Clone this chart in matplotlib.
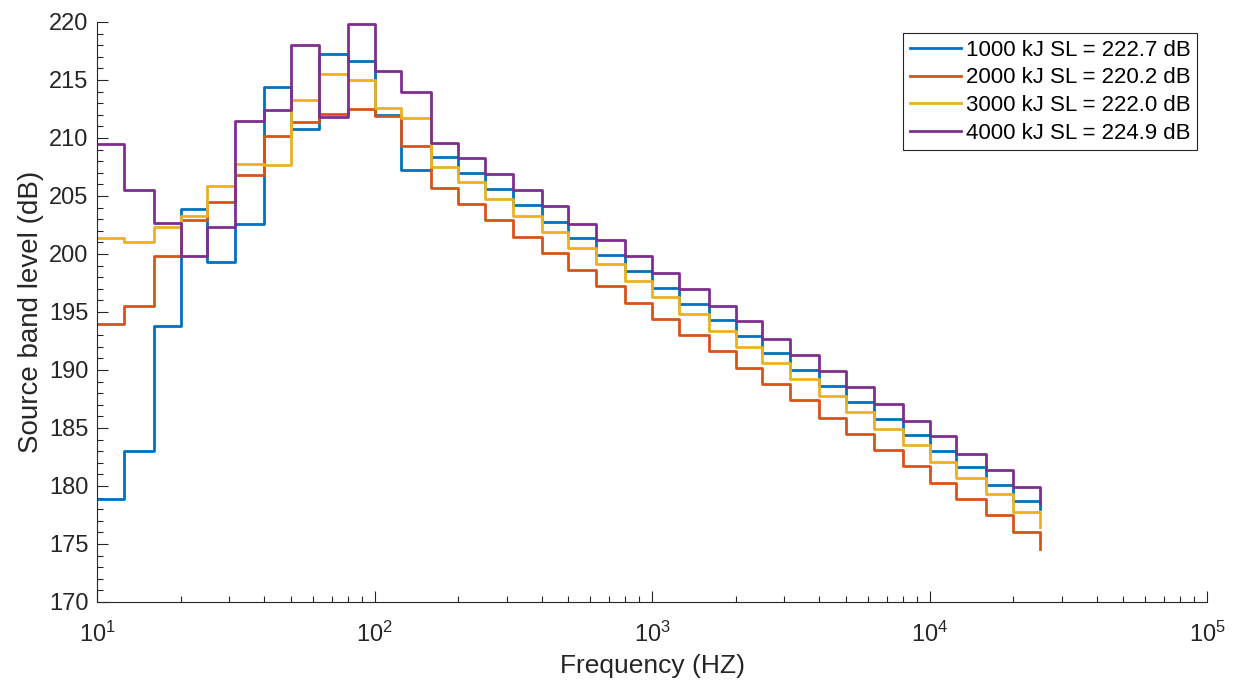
import matplotlib
matplotlib.use("Agg")
import matplotlib.pyplot as plt
from matplotlib.ticker import LogLocator, MultipleLocator

plt.rcParams['font.family'] = ['Liberation Sans', 'DejaVu Sans']

freqs = [10, 12.5, 16, 20, 25, 31.5, 40, 50, 63, 80, 100, 125, 160, 200, 250, 315,
         400, 500, 630, 800, 1000, 1250, 1600, 2000, 2500, 3150, 4000, 5000, 6300,
         8000, 10000, 12500, 16000, 20000, 25000]

sl_1000 = [178.9, 183.0, 193.8, 203.9, 199.3, 202.6, 214.4, 210.8, 217.2, 216.6,
           212.0, 207.2, 208.4, 207.0, 205.6, 204.2, 202.8, 201.4, 199.9, 198.5,
           197.1, 195.7, 194.3, 192.9, 191.5, 190.0, 188.6, 187.2, 185.8, 184.4,
           183.0, 181.6, 180.1, 178.7, 178.0]
sl_2000 = [194.0, 195.5, 199.8, 202.9, 204.5, 206.8, 210.2, 211.4, 212.1, 212.5,
           211.9, 209.3, 205.7, 204.3, 202.9, 201.5, 200.1, 198.6, 197.2, 195.8,
           194.4, 193.0, 191.6, 190.2, 188.8, 187.4, 185.9, 184.5, 183.1, 181.7,
           180.3, 178.9, 177.5, 176.0, 174.6]
sl_3000 = [201.4, 201.0, 202.3, 203.3, 205.9, 207.8, 207.7, 213.3, 215.5, 215.0,
           212.6, 211.7, 207.5, 206.2, 204.7, 203.3, 201.9, 200.5, 199.1, 197.7,
           196.3, 194.8, 193.4, 192.0, 190.6, 189.2, 187.8, 186.4, 184.9, 183.5,
           182.1, 180.7, 179.3, 177.8, 176.5]
sl_4000 = [209.5, 205.5, 202.7, 199.8, 202.3, 211.5, 212.4, 218.0, 211.8, 219.8,
           215.8, 214.0, 209.6, 208.3, 206.9, 205.5, 204.1, 202.6, 201.2, 199.8,
           198.4, 197.0, 195.5, 194.2, 192.7, 191.3, 189.9, 188.5, 187.1, 185.6,
           184.3, 182.8, 181.4, 179.9, 178.5]

labels = ["1000 kJ SL = 222.7 dB", "2000 kJ SL = 220.2 dB",
          "3000 kJ SL = 222.0 dB", "4000 kJ SL = 224.9 dB"]
series = [sl_1000, sl_2000, sl_3000, sl_4000]
colors = ["#0072BD", "#D95319", "#EDB120", "#7E2F8E"]

fig = plt.figure(figsize=(12.35, 6.85), dpi=100)
ax = fig.add_axes([97/1235, 83/685, 1110/1235, 580/685])

for vals, lab, col in zip(series, labels, colors):
    ax.step(freqs, vals, where='post', color=col, lw=2.0, label=lab)

ax.set_xscale('log')
ax.set_xlim(10, 1e5)
ax.set_ylim(170, 220)
ax.yaxis.set_major_locator(MultipleLocator(5))
ax.yaxis.set_minor_locator(MultipleLocator(1))
ax.xaxis.set_major_locator(LogLocator(base=10, numticks=10))
ax.xaxis.set_minor_locator(LogLocator(base=10, subs=range(2, 10), numticks=20))

axc = '#262626'
for s in ['top', 'right']:
    ax.spines[s].set_visible(False)
for s in ['left', 'bottom']:
    ax.spines[s].set_color(axc)
    ax.spines[s].set_linewidth(0.8)

ax.tick_params(which='both', direction='in', colors=axc, labelcolor='#262626')
ax.tick_params(which='major', length=8, width=0.8, labelsize=17)
ax.tick_params(which='minor', length=4, width=0.8)
ax.tick_params(axis='x', which='major', pad=14)
ax.tick_params(axis='y', which='major', pad=6)

ax.set_xlabel("Frequency (HZ)", fontsize=19, color='#262626', labelpad=5)
ax.set_ylabel("Source band level (dB)", fontsize=20, color='#262626', labelpad=4)

leg = ax.legend(loc='upper right', bbox_to_anchor=(0.991, 0.981), fontsize=16,
                frameon=True, fancybox=False, edgecolor='#262626', framealpha=1,
                handlelength=2.3, handletextpad=0.2, borderpad=0.3,
                labelspacing=0.3, borderaxespad=0)
leg.get_frame().set_linewidth(0.8)

fig.savefig("out.png", dpi=100)
